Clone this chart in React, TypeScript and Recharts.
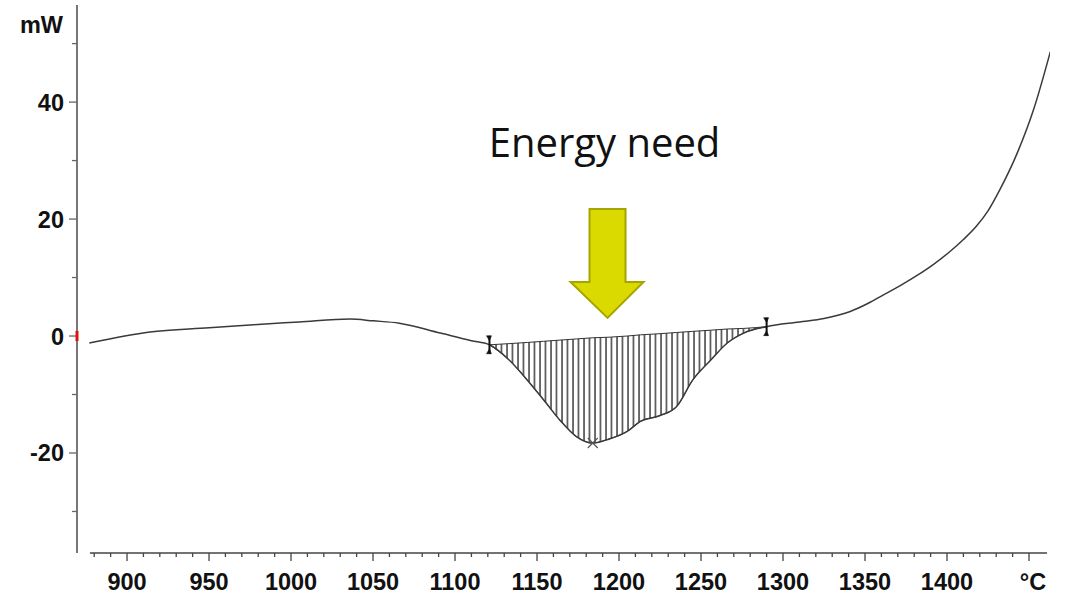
import React from "react"
import {
  ComposedChart,
  Line,
  Area,
  XAxis,
  YAxis,
  ReferenceDot,
  ReferenceLine,
} from "recharts"

// DSC curve
const temps = [
  877, 914, 950, 975, 1005, 1036, 1050, 1066, 1091, 1110, 1121, 1133, 1144, 1154, 1164, 1174,
  1184, 1194, 1205, 1213, 1225, 1235, 1245, 1256, 1266, 1276, 1290, 1310, 1325, 1341, 1352,
  1361, 1372, 1382, 1392, 1402, 1410, 1418, 1425, 1432, 1443, 1453, 1463,
]
const power = [
  -1.2, 0.7, 1.4, 1.9, 2.4, 2.9, 2.6, 2.2, 0.5, -0.8, -1.5, -4.1, -7.5, -10.9, -14.4, -17.2,
  -18.3, -17.6, -16.3, -14.6, -13.6, -12.1, -7.5, -4.1, -1.2, 0.5, 1.6, 2.4, 3.0, 4.2, 5.6,
  7.0, 8.7, 10.4, 12.3, 14.5, 16.5, 18.8, 21.4, 24.9, 31.4, 38.9, 48.6,
]
// integration baseline under the peak (1121..1290)
const baseline = [
  -1.5, -1.3, -1.1, -0.9, -0.7, -0.5, -0.3, -0.2, 0.0, 0.2, 0.4, 0.6, 0.8, 1.0, 1.2, 1.3, 1.6,
]
const peakStart = 1121
const peakEnd = 1290
const peakMin = { t: 1184, v: -18.3 }

const xTicks = [
  880, 890, 900, 910, 920, 930, 940, 950, 960, 970, 980, 990, 1000, 1010, 1020, 1030, 1040,
  1050, 1060, 1070, 1080, 1090, 1100, 1110, 1120, 1130, 1140, 1150, 1160, 1170, 1180, 1190,
  1200, 1210, 1220, 1230, 1240, 1250, 1260, 1270, 1280, 1290, 1300, 1310, 1320, 1330, 1340,
  1350, 1360, 1370, 1380, 1390, 1400, 1410, 1420, 1430, 1440, 1450,
]
const yTicks = [-30, -20, -10, 0, 10, 20, 30, 40, 50]

const X_DOMAIN: [number, number] = [869.5, 1462.8]
const Y_DOMAIN: [number, number] = [-37.1, 56.6]
const AXIS_START = 877.4
const AXIS_END = 1461

const startIdx = temps.indexOf(peakStart)
const data = temps.map((t, i) => {
  const j = i - startIdx
  const inPeak = t >= peakStart && t <= peakEnd
  return {
    t,
    mw: power[i],
    band: inPeak ? [power[i], baseline[j]] : null,
  }
})

const labelFont = { fontFamily: "'Liberation Sans', Arial, sans-serif", fontWeight: 700 }

const XTick = (props: any) => {
  const { x, y, payload } = props
  const v = payload.value
  const major = v % 50 === 0
  let label = ""
  if (major && v < 1450) label = String(v)
  if (v === 1450) label = "°C"
  return (
    <g>
      <line x1={x} x2={x} y1={y} y2={y + (major ? 8 : 4)} stroke="#444" strokeWidth={1.3} />
      {label && (
        <text x={x + (v === 1450 ? 4 : 0)} y={y + 37} textAnchor="middle" fontSize={23.5} fill="#111" {...labelFont}>
          {label}
        </text>
      )}
    </g>
  )
}

const YTick = (props: any) => {
  const { x, y, payload } = props
  const v = payload.value
  const major = v % 20 === 0
  return (
    <g>
      <line x1={x - (major ? 8 : 5)} x2={x} y1={y} y2={y} stroke="#666" strokeWidth={1.3} />
      {major && (
        <text x={x - 13} y={y + 8.5} textAnchor="end" fontSize={23.5} fill="#111" {...labelFont}>
          {v}
        </text>
      )}
      {v === 0 && <rect x={x - 1.5} y={y - 5} width={3} height={10} fill="#e01010" />}
    </g>
  )
}

const LimitMarker = (props: any) => {
  const { cx, cy } = props
  return (
    <g fill="#111" stroke="#111">
      <line x1={cx} x2={cx} y1={cy - 9} y2={cy + 9} strokeWidth={2} />
      <path d={`M${cx - 3},${cy - 9} L${cx + 2},${cy - 9} L${cx},${cy - 4} Z`} strokeWidth={0.5} />
      <path d={`M${cx - 3},${cy + 9} L${cx + 2},${cy + 9} L${cx},${cy + 4} Z`} strokeWidth={0.5} />
    </g>
  )
}

const MinMarker = (props: any) => {
  const { cx, cy } = props
  return (
    <g stroke="#555" strokeWidth={1.2}>
      <line x1={cx - 5} x2={cx + 5} y1={cy - 5} y2={cy + 5} />
      <line x1={cx - 5} x2={cx + 5} y1={cy + 5} y2={cy - 5} />
    </g>
  )
}

const ArrowNote = (props: any) => {
  const { cx, cy } = props
  const pts = [
    [0, 0],
    [-37, -36],
    [-18, -36],
    [-18, -109],
    [18, -109],
    [18, -36],
    [36, -36],
  ]
    .map(([dx, dy]) => `${cx + dx},${cy + dy}`)
    .join(" ")
  return (
    <g>
      <polygon points={pts} fill="#dada00" stroke="#a5a500" strokeWidth={2} strokeLinejoin="miter" />
      <text
        x={cx - 3}
        y={cy - 161}
        textAnchor="middle"
        fontSize={40}
        fill="#111"
        fontFamily="'Open Sans', sans-serif"
      >
        Energy need
      </text>
    </g>
  )
}

export default function App() {
  return (
    <div style={{ position: "absolute", left: 0, top: 0, width: 1066, height: 594, background: "#fff" }}>
      <ComposedChart width={1066} height={594} data={data} margin={{ top: 5, right: 16, bottom: 0, left: 0 }}>
        <defs>
          <pattern id="hatch" patternUnits="userSpaceOnUse" width={5.5} height={10}>
            <line x1={1} x2={1} y1={0} y2={10} stroke="#222" strokeWidth={1.3} />
          </pattern>
        </defs>
        <XAxis
          dataKey="t"
          type="number"
          domain={X_DOMAIN}
          allowDataOverflow
          ticks={xTicks}
          interval={0}
          axisLine={false}
          tickLine={false}
          tickSize={0}
          tickMargin={0}
          height={41}
          tick={<XTick />}
        />
        <YAxis
          type="number"
          domain={Y_DOMAIN}
          allowDataOverflow
          ticks={yTicks}
          interval={0}
          width={77}
          axisLine={{ stroke: "#777", strokeWidth: 2 }}
          tickLine={false}
          tickSize={0}
          tickMargin={0}
          tick={<YTick />}
          label={{
            value: "mW",
            position: "insideTopRight",
            content: () => (
              <text x={63} y={33} textAnchor="end" fontSize={23.5} fill="#111" {...labelFont}>
                mW
              </text>
            ),
          }}
        />
        <ReferenceLine
          segment={[
            { x: AXIS_START, y: Y_DOMAIN[0] },
            { x: AXIS_END, y: Y_DOMAIN[0] },
          ]}
          stroke="#444"
          strokeWidth={1.5}
          ifOverflow="visible"
        />
        <Area
          dataKey="band"
          type="monotone"
          fill="url(#hatch)"
          fillOpacity={1}
          stroke="#333"
          strokeWidth={1}
          connectNulls={false}
          dot={false}
          activeDot={false}
          isAnimationActive={false}
        />
        <Line
          dataKey="mw"
          type="monotone"
          stroke="#3a3a3a"
          strokeWidth={1.5}
          dot={false}
          activeDot={false}
          isAnimationActive={false}
        />
        <ReferenceDot x={peakStart} y={power[startIdx]} r={0} shape={<LimitMarker />} ifOverflow="visible" />
        <ReferenceDot x={peakEnd} y={power[temps.indexOf(peakEnd)]} r={0} shape={<LimitMarker />} ifOverflow="visible" />
        <ReferenceDot x={peakMin.t} y={peakMin.v} r={0} shape={<MinMarker />} ifOverflow="visible" />
        <ReferenceDot x={1193} y={3.1} r={0} shape={<ArrowNote />} ifOverflow="visible" />
      </ComposedChart>
    </div>
  )
}
